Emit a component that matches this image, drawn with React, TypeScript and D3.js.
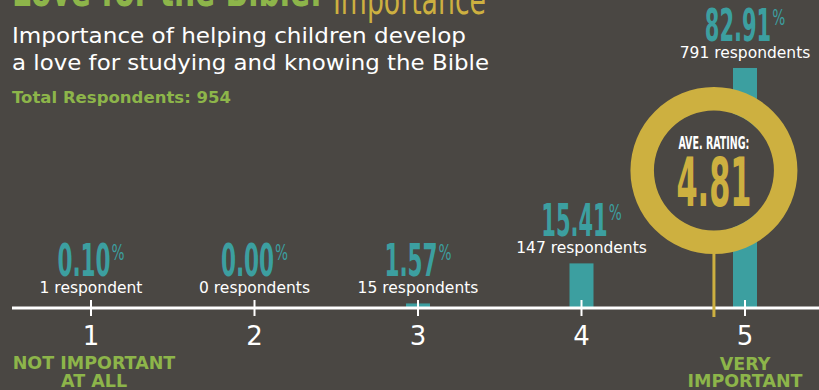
import React from "react";
import * as d3 from "d3";

const ratings = [1, 2, 3, 4, 5];
const percents = [0.1, 0.0, 1.57, 15.41, 82.91];
const respondents = [1, 0, 15, 147, 791];
const averageRating = 4.81;
const totalRespondents = 954;
const lowLabel = ["NOT IMPORTANT", "AT ALL"];
const highLabel = ["VERY", "IMPORTANT"];
const titleMain = "Love for the Bible:";
const titleSub = "Importance";
const subtitleLines = [
  "Importance of helping children develop",
  "a love for studying and knowing the Bible",
];

const W = 819;
const H = 390;
const BG = "#4a4743";
const TEAL = "#3c9fa0";
const GOLD = "#cdb040";
const GREEN = "#8db54a";
const WHITE = "#ffffff";
const COND = "'Liberation Sans Narrow','DejaVu Sans Condensed','Roboto Condensed',sans-serif";
const GEO = "'DejaVu Sans','Noto Sans',sans-serif";

export default function App() {
  const x = d3.scaleLinear().domain([1, 5]).range([91, 745]);
  const y = d3.scaleLinear().domain([0, 100]).range([308, 18.5]);
  const axisY = y(0);
  const barW = 24;
  const ringOuter = 83.5;
  const ringInner = 60;
  const ringCy = 170.5;
  const ringCx = x(averageRating);
  const arcRing = d3.arc()({
    innerRadius: ringInner,
    outerRadius: ringOuter,
    startAngle: 0,
    endAngle: Math.PI * 2,
  } as any) as string;

  return (
    <svg
      width={W}
      height={H}
      style={{ position: "absolute", left: 0, top: 0, display: "block" }}
    >
      <rect x={0} y={0} width={W} height={H} fill={BG} />

      {/* Title (cropped at top) */}
      <text
        x={12}
        y={6}
        fill={GREEN}
        fontFamily={COND}
        fontWeight="bold"
        fontSize={44}
        textLength={310}
        lengthAdjust="spacingAndGlyphs"
      >
        {titleMain}
      </text>
      <text
        x={333}
        y={14}
        fill={GOLD}
        fontFamily={COND}
        fontSize={40}
        textLength={153}
        lengthAdjust="spacingAndGlyphs"
      >
        {titleSub}
      </text>

      {/* Subtitle */}
      {subtitleLines.map((s, i) => (
        <text
          key={s}
          x={12}
          y={43 + i * 27}
          fill={WHITE}
          fontFamily={GEO}
          fontSize={21}
          textLength={i === 0 ? 454 : 477}
          lengthAdjust="spacingAndGlyphs"
        >
          {s}
        </text>
      ))}
      <text
        x={12}
        y={103}
        fill={GREEN}
        fontFamily={GEO}
        fontWeight="bold"
        fontSize={16.5}
        textLength={219}
        lengthAdjust="spacingAndGlyphs"
      >
        {`Total Respondents: ${totalRespondents}`}
      </text>

      {/* Bars */}
      {ratings.map((r, i) => (
        <rect
          key={"bar" + r}
          x={x(r) - barW / 2}
          y={y(percents[i])}
          width={barW}
          height={axisY - y(percents[i])}
          fill={TEAL}
        />
      ))}

      {/* Labels */}
      {ratings.map((r, i) => {
        const top = Math.min(y(percents[i]), 303);
        const respY = top - 10;
        const pctY = respY - 17;
        const numStr = percents[i].toFixed(2);
        const numW = 13.3 * numStr.length;
        const pctW = 14;
        const startX = x(r) - (numW + pctW) / 2;
        const respStr =
          respondents[i] === 1
            ? `${respondents[i]} respondent`
            : `${respondents[i]} respondents`;
        return (
          <g key={"lab" + r}>
            <text
              x={startX}
              y={pctY}
              fill={TEAL}
              fontFamily={COND}
              fontWeight="bold"
              fontSize={44}
              textLength={numW}
              lengthAdjust="spacingAndGlyphs"
            >
              {numStr}
            </text>
            <text
              x={startX + numW + 1}
              y={pctY - 16}
              fill={TEAL}
              fontFamily={COND}
              fontSize={21}
              textLength={pctW - 1}
              lengthAdjust="spacingAndGlyphs"
            >
              %
            </text>
            <text
              x={x(r)}
              y={respY}
              fill={WHITE}
              fontFamily={GEO}
              fontSize={15.5}
              textAnchor="middle"
            >
              {respStr}
            </text>
          </g>
        );
      })}

      {/* Axis */}
      <line x1={12} x2={W} y1={axisY} y2={axisY} stroke={WHITE} strokeWidth={3} />
      {ratings.map((r) => (
        <g key={"tick" + r}>
          <line
            x1={x(r)}
            x2={x(r)}
            y1={axisY - 8}
            y2={axisY + 8}
            stroke={WHITE}
            strokeWidth={2}
          />
          <text
            x={x(r)}
            y={345}
            fill={WHITE}
            fontFamily={GEO}
            fontSize={26}
            textAnchor="middle"
          >
            {r}
          </text>
        </g>
      ))}

      {/* End labels */}
      {lowLabel.map((s, i) => (
        <text
          key={"low" + i}
          x={x(1) + 3}
          y={369 + i * 18}
          fill={GREEN}
          fontFamily={GEO}
          fontWeight="bold"
          fontSize={17.5}
          textAnchor="middle"
        >
          {s}
        </text>
      ))}
      {highLabel.map((s, i) => (
        <text
          key={"high" + i}
          x={x(5)}
          y={370 + i * 17}
          fill={GREEN}
          fontFamily={GEO}
          fontWeight="bold"
          fontSize={17.5}
          textAnchor="middle"
        >
          {s}
        </text>
      ))}

      {/* Average rating ring */}
      <line
        x1={ringCx}
        x2={ringCx}
        y1={ringCy + ringOuter - 2}
        y2={317}
        stroke={GOLD}
        strokeWidth={3}
      />
      <circle cx={ringCx} cy={ringCy} r={ringInner} fill={BG} />
      <path d={arcRing} transform={`translate(${ringCx},${ringCy})`} fill={GOLD} />
      <text
        x={ringCx}
        y={149}
        fill={WHITE}
        fontFamily={COND}
        fontWeight="bold"
        fontSize={17}
        textAnchor="middle"
        textLength={71}
        lengthAdjust="spacingAndGlyphs"
      >
        AVE. RATING:
      </text>
      <text
        x={ringCx}
        y={206}
        fill={GOLD}
        fontFamily={COND}
        fontWeight="bold"
        fontSize={68}
        textAnchor="middle"
        textLength={75}
        lengthAdjust="spacingAndGlyphs"
      >
        {averageRating.toFixed(2)}
      </text>
    </svg>
  );
}
